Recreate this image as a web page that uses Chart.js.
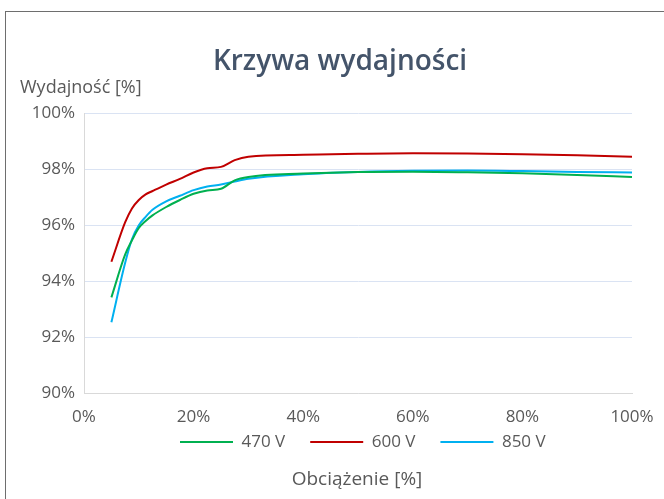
<!DOCTYPE html>
<html>
<head>
<meta charset="utf-8">
<script src="https://cdn.jsdelivr.net/npm/chart.js@4"></script>
<style>
  body { margin: 0; background: #fff; }
  #wrap { position: relative; width: 664px; height: 499px; overflow: hidden; }
  #frame { position: absolute; left: 5px; top: 11px; width: 700px; height: 600px; border: 1px solid #6e6e6e; }
  canvas { position: absolute; left: 0; top: 0; }
</style>
</head>
<body>
<div id="wrap"><div id="frame"></div><canvas id="chart" width="664" height="499"></canvas></div>
<script>
const loadPct = [5, 7.5, 8.75, 10, 11.25, 12.5, 15, 17.5, 20, 22.5, 25, 27.5, 30, 40, 50, 60, 70, 80, 90, 100];
const eff470 = [93.43, 94.95, 95.46, 95.9, 96.15, 96.35, 96.65, 96.9, 97.12, 97.24, 97.3, 97.6, 97.72, 97.84, 97.9, 97.91, 97.89, 97.85, 97.79, 97.72];
const eff600 = [94.7, 96.1, 96.6, 96.9, 97.1, 97.22, 97.45, 97.65, 97.88, 98.03, 98.08, 98.32, 98.44, 98.51, 98.55, 98.57, 98.56, 98.53, 98.49, 98.44];
const eff850 = [92.54, 94.65, 95.5, 96.0, 96.3, 96.55, 96.85, 97.05, 97.25, 97.38, 97.45, 97.56, 97.66, 97.82, 97.9, 97.94, 97.95, 97.93, 97.9, 97.88];
const seriesNames = ['470 V', '600 V', '850 V'];
const xTicks = [0, 20, 40, 60, 80, 100];
const yTicks = [90, 92, 94, 96, 98, 100];

const FONT = "'Open Sans', 'Noto Sans', sans-serif";
const TEXT = '#595959';

function toPoints(values) {
    return loadPct.map((x, i) => ({ x: x, y: values[i] }));
}

function makeSet(label, values, color) {
    return {
        label: label,
        data: toPoints(values),
        borderColor: color,
        backgroundColor: color,
        borderWidth: 2,
        pointRadius: 0,
        fill: false,
        cubicInterpolationMode: 'monotone'
    };
}

// titles drawn by hand (Chart.js can't put them where the reference has them)
// and the legend nudged up between tick labels and axis title
const extraText = {
    id: 'extraText',
    afterLayout(chart) {
        const lg = chart.legend;
        const pad = lg.options.labels.padding;
        const dx = 180 - (lg.left + pad + lg.right - lg.lineWidths[0]) / 2;
        const dy = 408.5 - lg.top;
        lg.left += dx; lg.right += dx;
        lg.top += dy; lg.bottom += dy;
    },
    afterDraw(chart) {
        const ctx = chart.ctx;
        ctx.save();
        ctx.textBaseline = 'middle';
        ctx.fillStyle = '#44546A';
        ctx.font = '600 28px ' + FONT;
        ctx.textAlign = 'center';
        ctx.fillText('Krzywa wydajności', 340, 62);
        ctx.fillStyle = TEXT;
        ctx.font = '18px ' + FONT;
        ctx.textAlign = 'left';
        ctx.fillText('Wydajność [%]', 20, 88);
        ctx.font = '19px ' + FONT;
        ctx.textAlign = 'center';
        ctx.fillText('Obciążenie [%]', 357, 480);
        ctx.restore();
    }
};

new Chart(document.getElementById('chart'), {
    type: 'line',
    data: {
        datasets: [
            makeSet(seriesNames[0], eff470, '#00B050'),
            makeSet(seriesNames[1], eff600, '#C00000'),
            makeSet(seriesNames[2], eff850, '#00B0F0')
        ]
    },
    options: {
        responsive: false,
        animation: false,
        layout: { padding: { top: 113, left: 0, right: 32, bottom: 16 } },
        scales: {
            x: {
                type: 'linear',
                min: 0,
                max: 100,
                afterBuildTicks: s => { s.ticks = xTicks.map(v => ({ value: v })); },
                // invisible tick marks push the labels down without widening the side padding
                grid: { display: true, drawOnChartArea: false, drawTicks: true, tickLength: 10, tickColor: 'rgba(0,0,0,0)' },
                border: { display: true, color: '#d9d9d9', width: 1 },
                ticks: {
                    padding: 3.5,
                    color: TEXT,
                    font: { family: FONT, size: 17 },
                    maxRotation: 0,
                    callback: v => v + '%'
                }
            },
            y: {
                min: 90,
                max: 100,
                afterBuildTicks: s => { s.ticks = yTicks.map(v => ({ value: v })); },
                afterFit: s => { s.width = 84; },
                grid: { color: '#dae3f3', drawTicks: false },
                border: { display: true, color: '#d9d9d9', width: 1 },
                ticks: {
                    padding: 9,
                    color: TEXT,
                    font: { family: FONT, size: 17 },
                    callback: v => v + '%'
                }
            }
        },
        plugins: {
            legend: {
                position: 'bottom',
                fullSize: false,
                labels: {
                    boxWidth: 53,
                    boxHeight: 2,
                    padding: 25,
                    color: TEXT,
                    font: { family: FONT, size: 17, lineHeight: 1 },
                    generateLabels: chart => Chart.defaults.plugins.legend.labels.generateLabels(chart).map(l => {
                        l.lineWidth = 0;
                        return l;
                    })
                }
            },
            title: { display: false },
            tooltip: { enabled: false }
        }
    },
    plugins: [extraText]
});
</script>
</body>
</html>
